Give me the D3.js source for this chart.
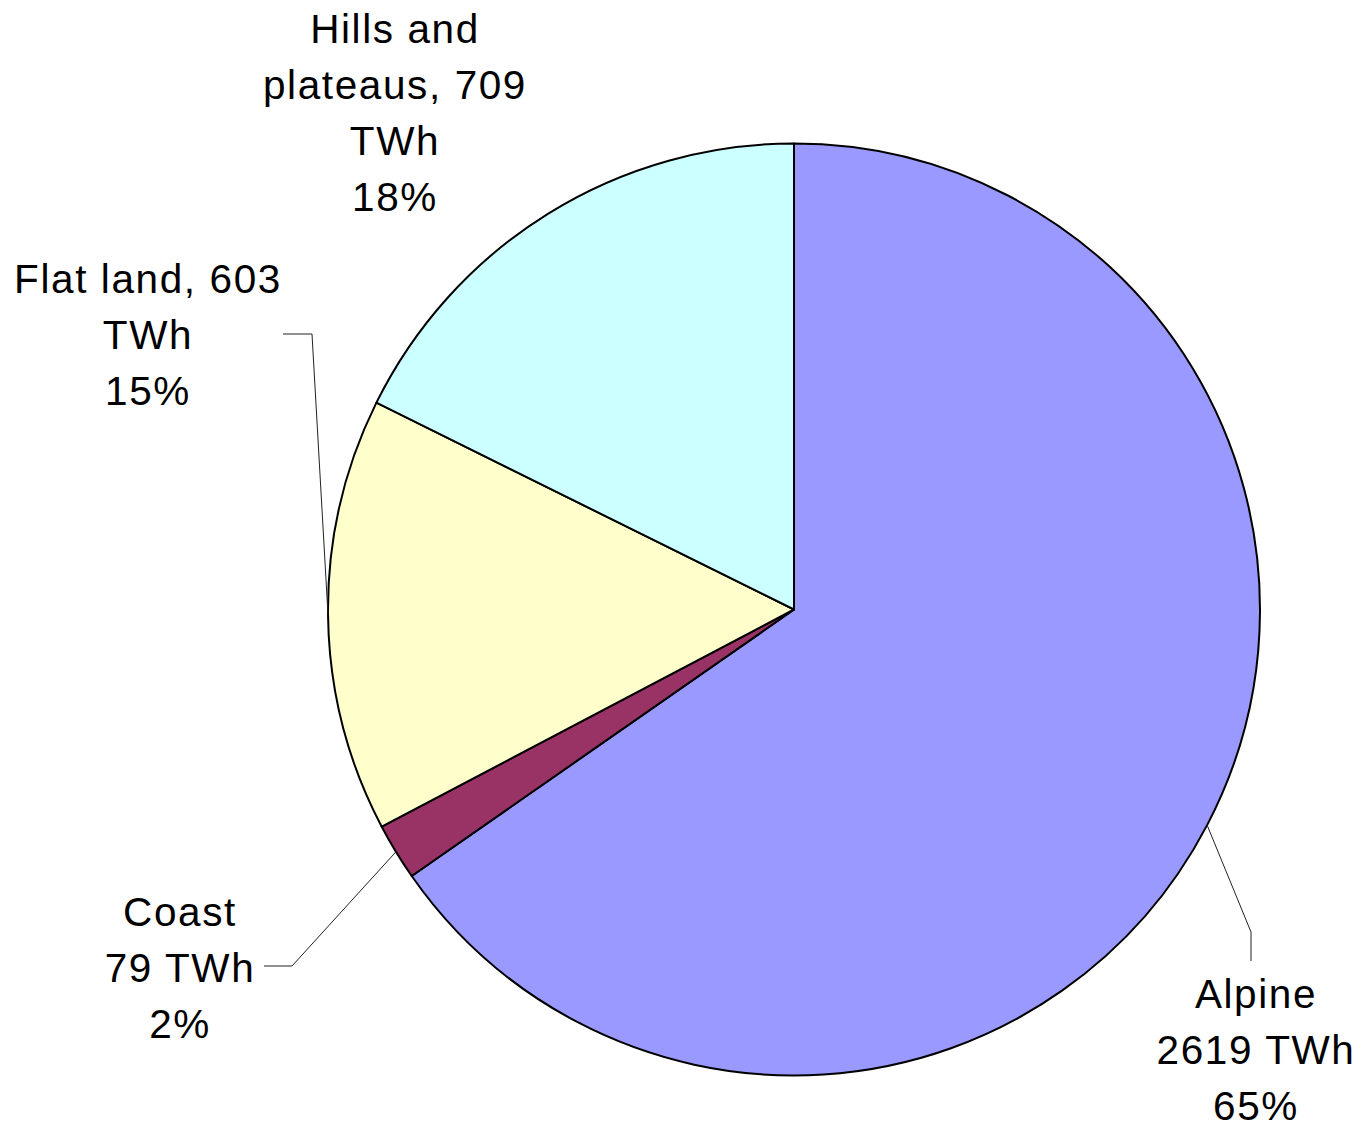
<!DOCTYPE html>
<html>
<head>
<meta charset="utf-8">
<script src="https://cdn.jsdelivr.net/npm/d3@7/dist/d3.min.js"></script>
<style>
  html, body { margin: 0; padding: 0; background: #ffffff; }
  svg { display: block; }
  text { font-family: "Liberation Sans", Arial, sans-serif; fill: #000; }
</style>
</head>
<body>
<svg id="chart" width="1367" height="1129"></svg>
<script>
// Hydropower potential by terrain type (TWh)
const categories = ["Alpine", "Coast", "Flat land", "Hills and plateaus"];
const values = [2619, 79, 603, 709];
const colors = ["#9999FF", "#993366", "#FFFFCC", "#CCFFFF"];

// Label text lines; {v} is replaced by the value, {p} by the percentage
const labelTemplates = [
  ["Alpine", "{v} TWh", "{p}"],
  ["Coast", "{v} TWh", "{p}"],
  ["Flat land, {v}", "TWh", "{p}"],
  ["Hills and", "plateaus, {v}", "TWh", "{p}"]
];

// Label placement (x centre, first baseline) and leader-line elbows
const labelPos = [
  { x: 1256, y: 1008 },
  { x: 180, y: 926 },
  { x: 148, y: 293 },
  { x: 395, y: 43 }
];
const leaderElbows = [
  [[1251, 961], [1251, 932]],
  [[264, 966], [292, 966]],
  [[283, 334], [312, 334]],
  null
];

const cx = 794, cy = 609.5, radius = 466, lineHeight = 56;
const svg = d3.select("#chart");
const g = svg.append("g").attr("transform", `translate(${cx},${cy})`);

const data = categories.map((c, i) => ({ name: c, value: values[i], i }));
const total = d3.sum(values);
const pct = d3.format(".0%");

const pie = d3.pie().sort(null).value(d => d.value).startAngle(0).endAngle(2 * Math.PI);
const arcs = pie(data);
const arc = d3.arc().innerRadius(0).outerRadius(radius);
const edge = d3.arc().innerRadius(radius).outerRadius(radius);

g.selectAll("path.slice")
  .data(arcs)
  .join("path")
  .attr("class", "slice")
  .attr("d", arc)
  .attr("fill", d => colors[d.data.i])
  .attr("stroke", "#000")
  .attr("stroke-width", 2)
  .attr("stroke-linejoin", "round");

// Leader lines from label to the slice edge
arcs.forEach(a => {
  const elbow = leaderElbows[a.data.i];
  if (!elbow) return;
  const [ex, ey] = edge.centroid(a);
  const pts = elbow.concat([[cx + ex, cy + ey]]);
  svg.append("path")
    .attr("d", d3.line()(pts))
    .attr("fill", "none")
    .attr("stroke", "#222")
    .attr("stroke-width", 1);
});

// Labels
arcs.forEach(a => {
  const i = a.data.i;
  const lines = labelTemplates[i].map(t =>
    t.replace("{v}", values[i]).replace("{p}", pct(values[i] / total)));
  const t = svg.append("text")
    .attr("text-anchor", "middle")
    .attr("font-size", 40.5)
    .attr("letter-spacing", 1.6);
  lines.forEach((ln, k) => {
    t.append("tspan")
      .attr("x", labelPos[i].x)
      .attr("y", labelPos[i].y + k * lineHeight)
      .text(ln);
  });
});
</script>
</body>
</html>
